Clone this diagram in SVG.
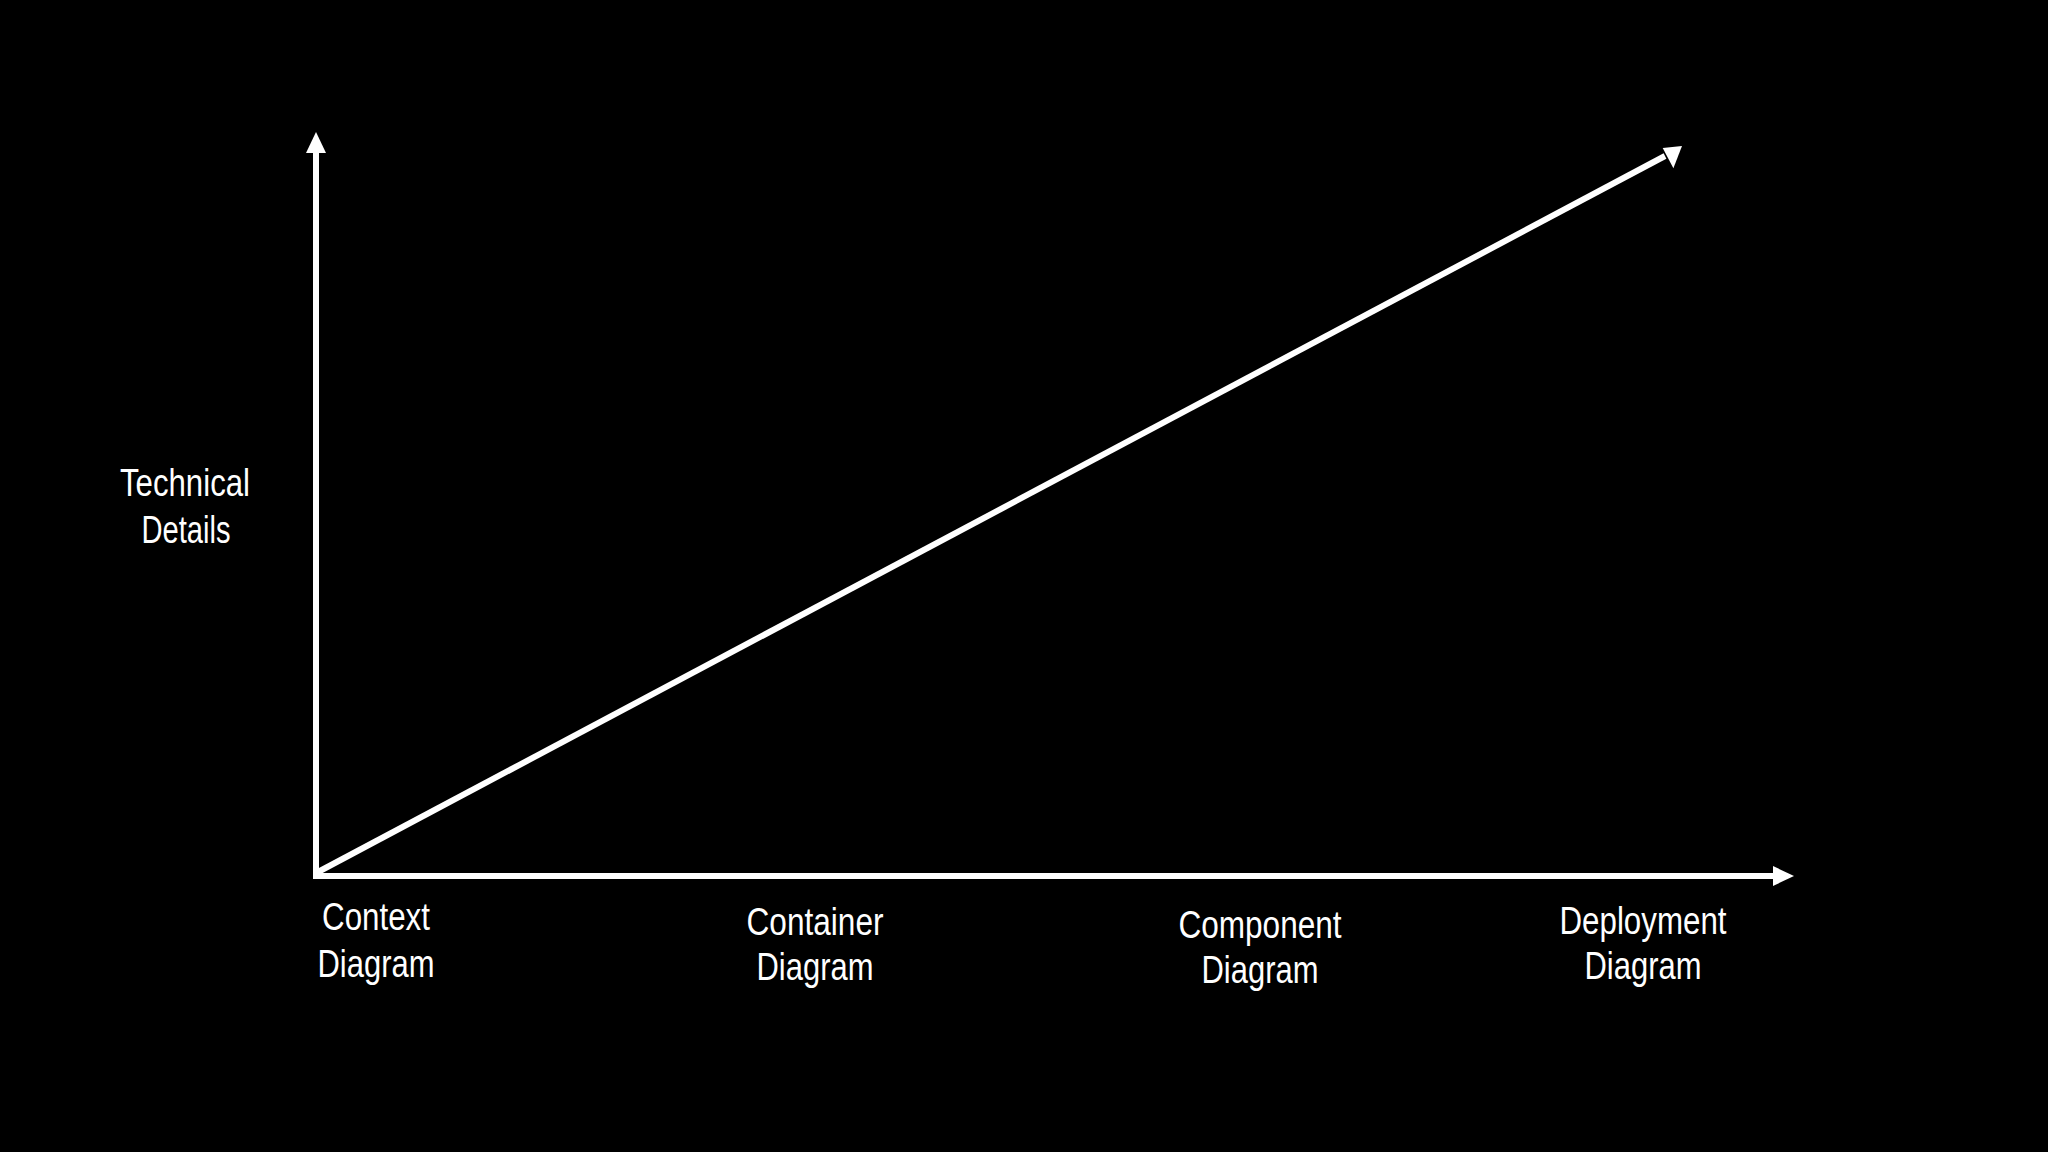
<svg xmlns="http://www.w3.org/2000/svg" width="2048" height="1152" viewBox="0 0 2048 1152">
<style>
.lbl{fill:#ffffff;font-family:"Liberation Sans",Arial,sans-serif;font-size:38px;text-anchor:middle}
.ax{stroke:#ffffff;stroke-width:6;fill:none}
.hd{fill:#ffffff;stroke:none}
</style>
<rect width="2048" height="1152" fill="#000000"/>
<g id="connectors">
<line class="ax" x1="316" y1="879" x2="316" y2="150"/>
<polygon class="hd" points="316,132 326,153 306,153"/>
<line class="ax" x1="313" y1="876" x2="1776" y2="876"/>
<polygon class="hd" points="1794,876 1773,866 1773,886"/>
<line class="ax" x1="318" y1="872" x2="1665" y2="156"/>
<polygon class="hd" points="1682,146 1673.4,168.3 1662.7,148.1"/>
</g>
<g id="technical-details">
<text class="lbl" x="185" y="496" textLength="130" lengthAdjust="spacingAndGlyphs">Technical</text>
<text class="lbl" x="186" y="543" textLength="89" lengthAdjust="spacingAndGlyphs">Details</text>
</g>
<g id="context-diagram">
<text class="lbl" x="376" y="930" textLength="108" lengthAdjust="spacingAndGlyphs">Context</text>
<text class="lbl" x="376" y="977" textLength="117" lengthAdjust="spacingAndGlyphs">Diagram</text>
</g>
<g id="container-diagram">
<text class="lbl" x="815" y="935" textLength="137" lengthAdjust="spacingAndGlyphs">Container</text>
<text class="lbl" x="815" y="980" textLength="117" lengthAdjust="spacingAndGlyphs">Diagram</text>
</g>
<g id="component-diagram">
<text class="lbl" x="1260" y="938" textLength="163" lengthAdjust="spacingAndGlyphs">Component</text>
<text class="lbl" x="1260" y="983" textLength="117" lengthAdjust="spacingAndGlyphs">Diagram</text>
</g>
<g id="deployment-diagram">
<text class="lbl" x="1643" y="934" textLength="167" lengthAdjust="spacingAndGlyphs">Deployment</text>
<text class="lbl" x="1643" y="979" textLength="117" lengthAdjust="spacingAndGlyphs">Diagram</text>
</g>
</svg>
